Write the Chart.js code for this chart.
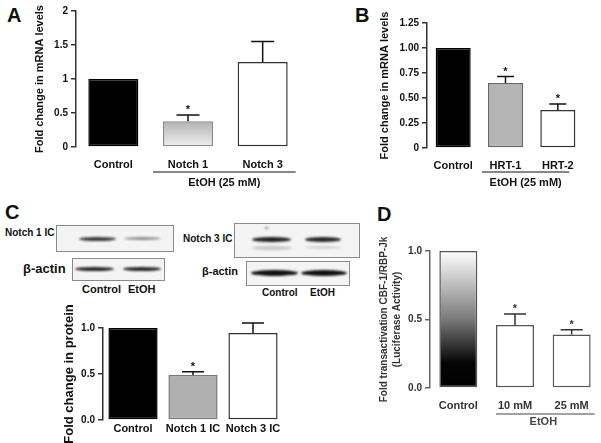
<!DOCTYPE html>
<html>
<head>
<meta charset="utf-8">
<title>Notch signalling / EtOH</title>
<script src="https://cdn.jsdelivr.net/npm/chart.js"></script>
<style>
  body { margin:0; width:601px; height:443px; background:#fff; position:relative; overflow:hidden;
         font-family:'Liberation Sans', Arial, sans-serif; font-weight:bold; color:#111; }
  canvas { position:absolute; }
  .lbl { position:absolute; white-space:nowrap; line-height:1; }
  .letter { position:absolute; font-size:20px; line-height:1; }
  .blot { position:absolute; border:1px solid #8a8a8a; background:#f4f4f4; overflow:hidden; }
  .band { position:absolute; border-radius:50%; filter:blur(1.1px); }
</style>
</head>
<body>
<div class="letter" style="left:7px;top:5px">A</div>
<div class="letter" style="left:355px;top:5px">B</div>
<div class="letter" style="left:5px;top:202px">C</div>
<div class="letter" style="left:377px;top:204px">D</div>

<!-- western blots (panel C) -->
<div class="lbl" style="left:5px;top:228px;font-size:10px">Notch 1 IC</div>
<div class="blot" style="left:56px;top:225px;width:116px;height:25px">
  <div class="band" style="left:22px;top:11px;width:37px;height:4px;background:#3a3a3a"></div>
  <div class="band" style="left:67px;top:11px;width:37px;height:3px;background:#8c8c8c"></div>
</div>
<div class="lbl" style="left:23px;top:262px;font-size:13px">β-actin</div>
<div class="blot" style="left:72px;top:258px;width:91px;height:21px">
  <div class="band" style="left:2px;top:8px;width:39px;height:4px;background:#262626"></div>
  <div class="band" style="left:50px;top:8px;width:38px;height:4px;background:#262626"></div>
</div>
<div class="lbl" style="left:82px;top:284px;font-size:11px">Control</div>
<div class="lbl" style="left:128px;top:284px;font-size:11px">EtOH</div>

<div class="lbl" style="left:183px;top:234px;font-size:10px">Notch 3 IC</div>
<div class="blot" style="left:234px;top:223px;width:124px;height:33px">
  <div class="band" style="left:17px;top:13px;width:39px;height:5px;background:#222"></div>
  <div class="band" style="left:70px;top:13px;width:36px;height:5px;background:#262626"></div>
  <div class="band" style="left:17px;top:22px;width:40px;height:4px;background:#c8c8c8"></div>
  <div class="band" style="left:70px;top:22px;width:36px;height:3px;background:#d2d2d2"></div>
  <div class="band" style="left:30px;top:3px;width:3px;height:2px;background:#777"></div>
</div>
<div class="lbl" style="left:202px;top:266px;font-size:11px">β-actin</div>
<div class="blot" style="left:246px;top:261px;width:102px;height:23px">
  <div class="band" style="left:4px;top:8px;width:47px;height:6px;background:#111"></div>
  <div class="band" style="left:54px;top:8px;width:46px;height:6px;background:#111"></div>
</div>
<div class="lbl" style="left:262px;top:288px;font-size:10px">Control</div>
<div class="lbl" style="left:310px;top:288px;font-size:10px">EtOH</div>

<canvas id="cA" width="305" height="195" style="left:0;top:0"></canvas>
<canvas id="cB" width="301" height="195" style="left:300px;top:0"></canvas>
<canvas id="cC" width="300" height="153" style="left:0;top:290px"></canvas>
<canvas id="cD" width="241" height="243" style="left:360px;top:200px"></canvas>

<script>
// ---- data ----
// A: mRNA, Notch receptors
const catsA = ['Control', 'Notch 1', 'Notch 3'];
const valsA = [1.0, 0.38, 1.25];
const errA = [0, 0.09, 0.30];
const starA = [false, true, false];
const ticksA = [0, 0.5, 1, 1.5, 2];
const tickLabelsA = ['0', '0.5', '1', '1.5', '2'];

// B: mRNA, HRT targets
const catsB = ['Control', 'HRT-1', 'HRT-2'];
const valsB = [1.0, 0.65, 0.38];
const errB = [0, 0.065, 0.06];
const starB = [false, true, true];
const ticksB = [0, 0.25, 0.5, 0.75, 1.0, 1.25];
const tickLabelsB = ['0', '0.25', '0.50', '0.75', '1.00', '1.25'];

// C: protein
const catsC = ['Control', 'Notch 1 IC', 'Notch 3 IC'];
const valsC = [1.0, 0.49, 0.945];
const errC = [0, 0.035, 0.11];
const starC = [false, true, false];
const ticksC = [0, 0.5, 1.0];
const tickLabelsC = ['0.0', '0.5', '1.0'];

// D: luciferase
const catsD = ['Control', '10 mM', '25 mM'];
const valsD = [1.0, 0.46, 0.39];
const errD = [0, 0.08, 0.035];
const starD = [false, true, true];
const ticksD = [0, 0.5, 1.0];
const tickLabelsD = ['0.0', '0.5', '1.0'];

const FONT = "'Liberation Sans', Arial, sans-serif";
Chart.defaults.font.family = FONT;
Chart.defaults.font.weight = 'bold';

// gradient fills (top -> bottom of the bar), error bars, asterisks, EtOH bracket
const extrasPlugin = {
  id: 'extras',
  beforeDatasetsDraw(chart, args, o) {
    if (!o.gradients) return;
    const ctx = chart.ctx;
    chart.getDatasetMeta(0).data.forEach((bar, i) => {
      const stops = o.gradients[i];
      if (!stops) return;
      const g = ctx.createLinearGradient(0, bar.y, 0, bar.base);
      stops.forEach(([at, col]) => g.addColorStop(at, col));
      bar.options = Object.assign({}, bar.options, { backgroundColor: g });
    });
  },
  afterDatasetsDraw(chart, args, o) {
    const ctx = chart.ctx;
    const y = chart.scales.y;
    const meta = chart.getDatasetMeta(0);
    const vals = chart.data.datasets[0].data;
    ctx.save();
    ctx.strokeStyle = o.color;
    ctx.fillStyle = o.color;
    ctx.lineWidth = 1.5;
    vals.forEach((v, i) => {
      const bar = meta.data[i];
      const tip = y.getPixelForValue(v + (o.errors[i] || 0));
      if (o.errors[i]) {
        ctx.beginPath();
        ctx.moveTo(bar.x, y.getPixelForValue(v));
        ctx.lineTo(bar.x, tip);
        ctx.moveTo(bar.x - o.cap / 2, tip);
        ctx.lineTo(bar.x + o.cap / 2, tip);
        ctx.stroke();
      }
      if (o.stars[i]) {
        ctx.font = 'bold 11px ' + FONT;
        ctx.textAlign = 'center';
        ctx.textBaseline = 'alphabetic';
        ctx.fillText('*', bar.x, tip - 2);
      }
    });
    const g = o.group;
    if (g) {
      const a = meta.data[g.from], b = meta.data[g.to];
      const x1 = a.x - a.width / 2 - g.padL;
      const x2 = b.x + b.width / 2 + g.padR;
      const base = chart.chartArea.bottom;
      ctx.strokeStyle = g.color;
      ctx.lineWidth = 1;
      ctx.beginPath();
      ctx.moveTo(x1, base + g.lineDy);
      ctx.lineTo(x2, base + g.lineDy);
      ctx.stroke();
      ctx.fillStyle = g.color;
      ctx.font = 'bold 11px ' + FONT;
      ctx.textAlign = 'center';
      ctx.textBaseline = 'middle';
      ctx.fillText(g.text, g.textAt === 'line' ? (x1 + x2) / 2 : (a.x + b.x) / 2, base + g.textDy);
    }
    ctx.restore();
  }
};

function buildChart(id, o) {
  return new Chart(document.getElementById(id), {
    type: 'bar',
    data: {
      labels: o.cats,
      datasets: [{
        data: o.vals,
        backgroundColor: o.fill,
        borderColor: o.edge,
        borderWidth: 1.5,
        borderSkipped: false,
        barPercentage: o.barPct,
        categoryPercentage: 1
      }]
    },
    options: {
      responsive: false,
      animation: false,
      layout: { autoPadding: false, padding: o.pad },
      plugins: {
        legend: { display: false },
        tooltip: { enabled: false },
        extras: { errors: o.errors, stars: o.stars, cap: o.cap, color: o.ink, group: o.group, gradients: o.gradients }
      },
      scales: {
        x: {
          grid: { display: false, drawTicks: false },
          border: { display: false },
          ticks: { color: o.ink, font: { size: 11, weight: 'bold' }, padding: o.xPad, maxRotation: 0, autoSkip: false },
          afterFit: s => { s.height = o.xH; }
        },
        y: {
          min: 0,
          max: o.ticks[o.ticks.length - 1],
          afterFit: s => { s.width = o.yW; },
          afterBuildTicks: s => { s.ticks = o.ticks.map(v => ({ value: v })); },
          ticks: { color: o.ink, font: { size: 10, weight: 'bold' }, padding: 3, callback: (v, i) => o.tickLabels[i] },
          grid: { drawOnChartArea: false, tickLength: 5, color: o.axis, lineWidth: 1.5 },
          border: { color: o.axis, width: 1.5 },
          title: {
            display: true, text: o.title, color: o.ink,
            font: { size: o.titleSize, weight: 'bold', lineHeight: o.titleLH || 1.2 },
            padding: { top: o.titlePad, bottom: 0 }
          }
        }
      }
    },
    plugins: [extrasPlugin]
  });
}

buildChart('cA', {
  cats: catsA, vals: valsA, errors: errA, stars: starA, ticks: ticksA, tickLabels: tickLabelsA,
  fill: ['#000', '#cfcfcf', '#fff'],
  gradients: [null, [[0, '#b2b2b2'], [1, '#efefef']], null],
  edge: ['#000', '#8a8a8a', '#333'],
  barPct: 0.67, cap: 23, ink: '#111', axis: '#333',
  pad: { left: 0, top: 11, right: 5, bottom: 0 }, yW: 76, xH: 48, xPad: 11,
  title: 'Fold change in mRNA levels', titleSize: 11, titlePad: 33,
  group: { from: 1, to: 2, padL: 10, padR: 8, lineDy: 25, textDy: 36, text: 'EtOH (25 mM)', color: '#111', textAt: 'line' }
});

buildChart('cB', {
  cats: catsB, vals: valsB, errors: errB, stars: starB, ticks: ticksB, tickLabels: tickLabelsB,
  fill: ['#000', '#b4b4b4', '#fff'],
  edge: ['#000', '#666', '#333'],
  barPct: 0.67, cap: 17, ink: '#111', axis: '#333',
  pad: { left: 0, top: 23, right: 17, bottom: 0 }, yW: 127, xH: 47, xPad: 11,
  title: 'Fold change in mRNA levels', titleSize: 11, titlePad: 78,
  group: { from: 1, to: 2, padL: 6, padR: -6, lineDy: 24, textDy: 35, text: 'EtOH (25 mM)', color: '#111', textAt: 'line' }
});

buildChart('cC', {
  cats: catsC, vals: valsC, errors: errC, stars: starC, ticks: ticksC, tickLabels: tickLabelsC,
  fill: ['#000', '#b0b0b0', '#fff'],
  edge: ['#000', '#777', '#333'],
  barPct: 0.82, cap: 22, ink: '#111', axis: '#333',
  pad: { left: 0, top: 38, right: 17, bottom: 0 }, yW: 103, xH: 23, xPad: 2,
  title: 'Fold change in protein', titleSize: 13, titlePad: 62
});

buildChart('cD', {
  cats: catsD, vals: valsD, errors: errD, stars: starD, ticks: ticksD, tickLabels: tickLabelsD,
  fill: ['#777', '#fff', '#fff'],
  gradients: [[[0, '#ffffff'], [0.5, '#7a7a7a'], [0.82, '#050505'], [1, '#000000']], null, null],
  edge: ['#555', '#555', '#555'],
  barPct: 0.67, cap: 22, ink: '#333', axis: '#666',
  pad: { left: 0, top: 51, right: 1, bottom: 0 }, yW: 70, xH: 55, xPad: 11,
  title: ['Fold transactivation CBF-1/RBP-Jk', '(Luciferase Activity)'], titleSize: 10, titleLH: 1.3, titlePad: 17.5,
  group: { from: 1, to: 2, padL: 0, padR: 4, lineDy: 26, textDy: 34, text: 'EtOH', color: '#444', textAt: 'bars' }
});
</script>
</body>
</html>
